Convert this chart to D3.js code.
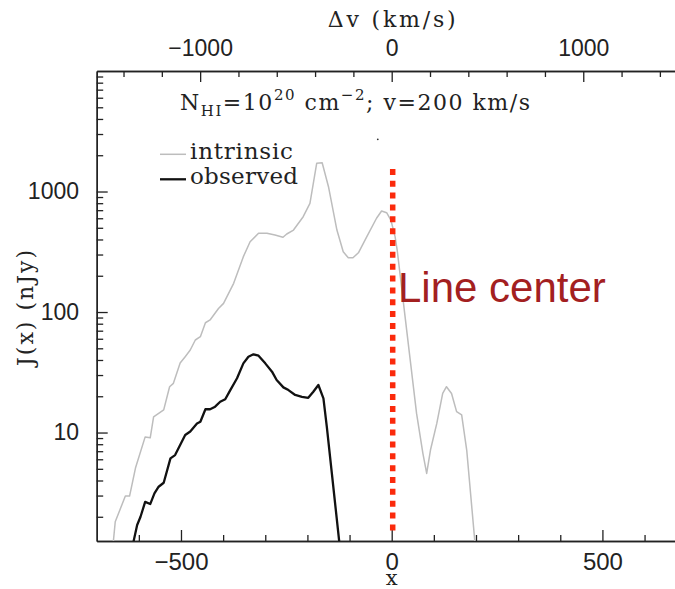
<!DOCTYPE html>
<html>
<head>
<meta charset="utf-8">
<script src="https://cdn.jsdelivr.net/npm/d3@7"></script>
<style>
  body { margin: 0; background: #fff; }
  svg { display: block; }
</style>
</head>
<body>
<svg id="chart" width="675" height="589"></svg>
<script>
// Intrinsic Lyman-alpha profile, J(x) in nJy against frequency offset x
const intrinsicX = [-662, -656, -632, -622, -608, -585, -573, -565, -541, -527, -518, -502, -490, -478,
  -466, -454, -442, -431, -411, -399, -375, -352, -336, -316, -296, -277, -258, -249, -233, -210,
  -194, -178, -165, -150, -130, -115, -103, -92, -79, -59, -36, -24, -12, -2, 8, 13, 28, 43, 59,
  74, 83, 92, 107, 121, 130, 142, 154, 166, 178, 197, 200];
const intrinsicJ = [1.1, 1.82, 2.97, 2.97, 5.07, 9.2, 9.05, 13.5, 15.4, 24.0, 25.6, 37.7, 42.6, 48.4,
  58.6, 62.4, 81.5, 85.9, 107, 118, 173, 288, 383, 450, 450, 435, 417, 444, 479, 618,
  798, 1714, 1734, 1096, 479, 316, 282, 282, 310, 422, 600, 689, 667, 580, 422, 327, 118, 42.6, 14.4,
  6.72, 4.58, 7.16, 11.9, 21.1, 24.0, 21.1, 14.9, 14.0, 7.16, 1.28, 1.1];

// Observed profile after IGM transmission
const observedX = [-616, -604, -596, -585, -573, -563, -553, -541, -525, -514, -502, -490, -478, -462,
  -454, -442, -431, -419, -407, -395, -383, -367, -352, -340, -328, -316, -300, -284, -273, -257,
  -245, -229, -213, -198, -186, -174, -162, -154, -142, -124];
const observedJ = [1.1, 1.71, 2.0, 2.66, 2.55, 3.13, 3.55, 3.83, 6.11, 6.50, 7.88, 9.53, 10.2, 11.9,
  12.3, 15.6, 15.6, 16.4, 18.0, 18.9, 22.5, 28.2, 37.5, 42.6, 44.6, 43.4, 37.5, 32.0, 27.3, 23.7,
  22.5, 20.5, 19.8, 19.4, 21.8, 24.8, 19.2, 11.2, 4.58, 1.2];

// Axis extents and ticks
const xDomain = [-700, 700];
const dvDomain = [-1540, 1540];
const jDomain = [Math.pow(10, 0.1), 1e4];
const xMajorTicks = [-500, 0, 500];
const xMinorTicks = [-600, -400, -300, -200, -100, 100, 200, 300, 400, 600];
const dvMajorTicks = [-1000, 0, 1000];
const dvMinorTicks = [-1400, -1200, -800, -600, -400, -200, 200, 400, 600, 800, 1200, 1400];
const jMajorTicks = [10, 100, 1000];
const jMinorTicks = [2, 3, 4, 5, 6, 7, 8, 9, 20, 30, 40, 50, 60, 70, 80, 90,
  200, 300, 400, 500, 600, 700, 800, 900, 2000, 3000, 4000, 5000, 6000, 7000, 8000, 9000];

// Line-centre marker (x = 0) and its vertical extent in J
const centreX = [0];
const centreJ = [1540, 1.44];
// small stray point near the top
const strayX = [-33];
const strayJ = [2712];

const seriesLabels = ["intrinsic", "observed"];

const svg = d3.select("#chart");
const plotLeft = 96.7, plotRight = 686.7, plotTop = 71, plotBottom = 541;

const x = d3.scaleLinear().domain(xDomain).range([plotLeft, plotRight]);
const dv = d3.scaleLinear().domain(dvDomain).range([plotLeft, plotRight]);
const y = d3.scaleLog().domain(jDomain).range([plotBottom, plotTop]);

svg.append("rect").attr("width", 675).attr("height", 589).attr("fill", "#fff");

svg.append("clipPath").attr("id", "plot-clip")
  .append("rect").attr("x", plotLeft).attr("y", plotTop)
  .attr("width", plotRight - plotLeft).attr("height", plotBottom - plotTop);

const numFont = "'Liberation Sans', Arial, sans-serif";
const serif = "'DejaVu Serif', 'Liberation Serif', serif";
const fmt = d3.format("d");
const axisColor = "#222";

function styleAxis(g, fontSize) {
  g.selectAll("path.domain").attr("stroke", axisColor).attr("stroke-width", 1.4);
  g.selectAll(".tick line").attr("stroke", axisColor).attr("stroke-width", 1.3);
  g.selectAll("text").attr("fill", "#222").style("font-family", numFont).style("font-size", fontSize + "px");
}

// bottom axis (x)
const gBot = svg.append("g").attr("transform", `translate(0,${plotBottom})`);
gBot.call(d3.axisBottom(x).tickValues(xMajorTicks).tickFormat(fmt).tickSize(-11).tickSizeOuter(0).tickPadding(12.3));
styleAxis(gBot, 24);
const gBotMinor = svg.append("g").attr("transform", `translate(0,${plotBottom})`);
gBotMinor.call(d3.axisBottom(x).tickValues(xMinorTicks).tickFormat("").tickSize(-6).tickSizeOuter(0));
styleAxis(gBotMinor, 24);

// top axis (Δv)
const gTop = svg.append("g").attr("transform", `translate(0,${plotTop})`);
gTop.call(d3.axisTop(dv).tickValues(dvMajorTicks).tickFormat(fmt).tickSize(-11).tickSizeOuter(0).tickPadding(15));
gTop.selectAll("text").attr("dy", "0em");
styleAxis(gTop, 23);
const gTopMinor = svg.append("g").attr("transform", `translate(0,${plotTop})`);
gTopMinor.call(d3.axisTop(dv).tickValues(dvMinorTicks).tickFormat("").tickSize(-6).tickSizeOuter(0));
styleAxis(gTopMinor, 23);

// left axis (J)
const gLeft = svg.append("g").attr("transform", `translate(${plotLeft},0)`);
gLeft.call(d3.axisLeft(y).tickValues(jMajorTicks).tickFormat(fmt).tickSize(-11).tickSizeOuter(0).tickPadding(17.7));
styleAxis(gLeft, 23);
const gLeftMinor = svg.append("g").attr("transform", `translate(${plotLeft},0)`);
gLeftMinor.call(d3.axisLeft(y).tickValues(jMinorTicks).tickFormat("").tickSize(-6.5).tickSizeOuter(0));
styleAxis(gLeftMinor, 23);

// curves
const line = d3.line().x(d => x(d[0])).y(d => y(d[1]));
const plot = svg.append("g").attr("clip-path", "url(#plot-clip)");

plot.append("path")
  .datum(d3.zip(intrinsicX, intrinsicJ))
  .attr("d", line).attr("fill", "none")
  .attr("stroke", "#bdbdbd").attr("stroke-width", 1.5).attr("stroke-linejoin", "round");

plot.append("path")
  .datum(d3.zip(observedX, observedJ))
  .attr("d", line).attr("fill", "none")
  .attr("stroke", "#111").attr("stroke-width", 2.3).attr("stroke-linejoin", "round");

plot.selectAll("circle.stray")
  .data(d3.zip(strayX, strayJ)).join("circle")
  .attr("class", "stray")
  .attr("cx", d => x(d[0])).attr("cy", d => y(d[1])).attr("r", 0.9).attr("fill", "#333");

// line-centre marker
svg.append("line")
  .attr("x1", x(centreX[0]) + 1).attr("x2", x(centreX[0]) + 1)
  .attr("y1", y(centreJ[0])).attr("y2", y(centreJ[1]))
  .attr("stroke", "#fb2a0c").attr("stroke-width", 5.5)
  .attr("stroke-dasharray", "6 5.85");

svg.append("text")
  .attr("x", 398).attr("y", 302)
  .style("font-family", numFont).style("font-size", "42px")
  .attr("fill", "#a3201f")
  .text("Line center");

// legend
const legendRows = [
  { label: seriesLabels[0], color: "#bdbdbd", width: 1.5, y: 154.3, tl: 103 },
  { label: seriesLabels[1], color: "#111", width: 2.3, y: 179.3, tl: 108 }
];
const lg = svg.append("g");
legendRows.forEach(r => {
  lg.append("line").attr("x1", 160).attr("x2", 186).attr("y1", r.y).attr("y2", r.y)
    .attr("stroke", r.color).attr("stroke-width", r.width);
  lg.append("text").attr("x", 190).attr("y", r.y + 4.7)
    .style("font-family", serif).style("font-size", "23px").attr("fill", "#222")
    .attr("textLength", r.tl).attr("lengthAdjust", "spacing")
    .text(r.label);
});

// title inside the frame
const title = svg.append("text").attr("x", 180).attr("y", 110)
  .style("font-family", serif).style("font-size", "22px").attr("fill", "#222")
  .attr("textLength", 350).attr("lengthAdjust", "spacing");
title.append("tspan").text("N");
title.append("tspan").attr("dy", 6).style("font-size", "15px").text("HI");
title.append("tspan").attr("dy", -6).text("=10");
title.append("tspan").attr("dy", -10).style("font-size", "15px").text("20");
title.append("tspan").attr("dy", 10).text(" cm");
title.append("tspan").attr("dy", -10).style("font-size", "15px").text("\u22122");
title.append("tspan").attr("dy", 10).text("; v=200 km/s");

// axis titles
svg.append("text").attr("x", dv(0)).attr("y", 27).attr("text-anchor", "middle")
  .style("font-family", serif).style("font-size", "22px").attr("fill", "#222")
  .attr("textLength", 128).attr("lengthAdjust", "spacing")
  .text("\u0394v (km/s)");

svg.append("text").attr("x", x(0)).attr("y", 585).attr("text-anchor", "middle")
  .style("font-family", serif).style("font-size", "21px").attr("fill", "#222")
  .text("x");

svg.append("text").attr("transform", "translate(33,308) rotate(-90)").attr("text-anchor", "middle")
  .style("font-family", serif).style("font-size", "22px").attr("fill", "#222")
  .attr("textLength", 116).attr("lengthAdjust", "spacing")
  .text("J(x) (nJy)");
</script>
</body>
</html>
